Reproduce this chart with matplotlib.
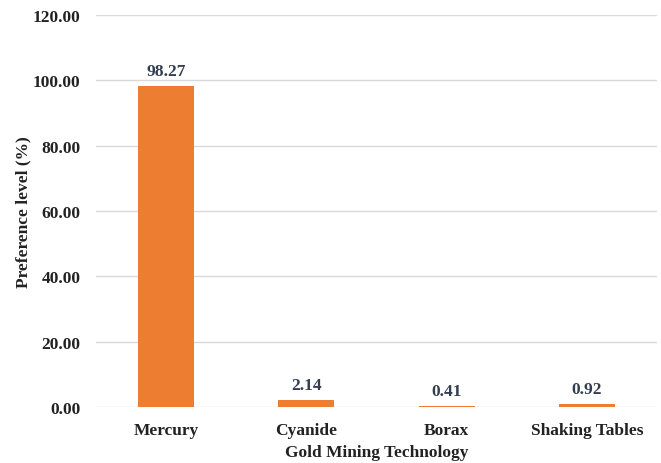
import matplotlib.pyplot as plt

technologies = ['Mercury', 'Cyanide', 'Borax', 'Shaking Tables']
preference = [98.27, 2.14, 0.41, 0.92]
y_ticks = [0, 20, 40, 60, 80, 100, 120]

plt.rcParams['font.family'] = ['Liberation Serif', 'DejaVu Serif']
plt.rcParams['font.weight'] = 'bold'

fig = plt.figure(figsize=(6.61, 4.64), dpi=100)
ax = fig.add_axes([0.145, 0.1207, 0.849, 0.8448])

x = range(len(technologies))
bars = ax.bar(x, preference, width=0.4, color='#ED7D31', zorder=3)
for b, v in zip(bars, preference):
    ax.text(b.get_x() + b.get_width() / 2, v + 2, f'{v:.2f}',
            ha='center', va='bottom', fontsize=12.5, fontweight='bold',
            color='#333f50')

ax.set_xlim(-0.5, len(technologies) - 0.5)
ax.set_ylim(0, 120)
ax.set_yticks(y_ticks)
ax.set_yticklabels([f'{t:.2f}' for t in y_ticks])
ax.set_xticks(list(x))
ax.set_xticklabels(technologies)
ax.tick_params(axis='both', length=0, labelsize=12.5, colors='#222222')
ax.tick_params(axis='y', pad=11)
ax.tick_params(axis='x', pad=11)
ax.yaxis.grid(True, color='#d9d9d9', linewidth=1, zorder=0)
for s in ax.spines.values():
    s.set_visible(False)

ax.set_xlabel('Gold Mining Technology', fontsize=12.5, fontweight='bold',
              color='#222222', labelpad=4)
ax.set_ylabel('Preference level (%)', fontsize=12.5, fontweight='bold',
              color='#222222', labelpad=1)

fig.savefig('out.png', dpi=100)
